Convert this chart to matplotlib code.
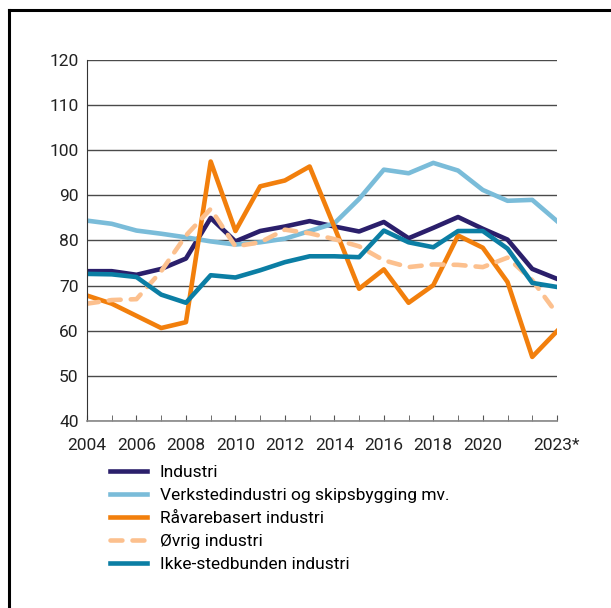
import numpy as np
import matplotlib
matplotlib.use('Agg')
import matplotlib.pyplot as plt
from matplotlib.lines import Line2D

plt.rcParams['font.family'] = ['Roboto', 'DejaVu Sans']

years = np.arange(2004, 2024)
industri = [73.2, 73.2, 72.4, 73.7, 76.0, 85.0, 79.8, 82.1, 83.1, 84.3,
            83.1, 82.0, 84.1, 80.5, 82.8, 85.2, 82.6, 80.2, 73.7, 71.5]
verksted = [84.4, 83.7, 82.2, 81.5, 80.7, 79.8, 79.1, 79.6, 80.4, 82.1,
            83.8, 89.2, 95.7, 94.9, 97.2, 95.5, 91.2, 88.8, 89.0, 84.3]
raavare = [67.8, 66.0, 63.3, 60.6, 61.9, 97.5, 82.1, 92.0, 93.3, 96.4,
           83.0, 69.3, 73.6, 66.2, 70.1, 81.1, 78.4, 70.8, 54.2, 59.9]
ovrig = [66.0, 66.8, 67.0, 73.2, 81.1, 87.0, 78.7, 79.6, 82.4, 81.6,
         80.3, 78.7, 75.6, 74.1, 74.7, 74.6, 74.1, 76.2, 71.2, 63.8]
ikke_sted = [72.6, 72.5, 71.9, 68.0, 66.2, 72.3, 71.8, 73.4, 75.2, 76.5,
             76.5, 76.3, 82.2, 79.6, 78.5, 82.1, 82.1, 78.2, 70.6, 69.7]

label_years = [2004, 2006, 2008, 2010, 2012, 2014, 2016, 2018, 2020, 2023]
label_text = ['2004', '2006', '2008', '2010', '2012', '2014', '2016',
              '2018', '2020', '2023*']

FS = 12.5
fig = plt.figure(figsize=(6.11, 6.08), dpi=100)
ax = fig.add_axes([0.1424, 0.3076, 0.9116 - 0.1424, 0.9013 - 0.3076])

LW = 3.3
ax.plot(years, industri, color='#2b1f6b', lw=LW, label='Industri')
ax.plot(years, verksted, color='#7abcd9', lw=LW,
        label='Verkstedindustri og skipsbygging mv.')
ax.plot(years, raavare, color='#f27f0c', lw=LW, label='Råvarebasert industri')
ax.plot(years, ovrig, color='#fcc08e', lw=LW, dashes=(2.6, 2.2),
        dash_capstyle='round', label='Øvrig industri')
ax.plot(years, ikke_sted, color='#0b7ea4', lw=LW,
        label='Ikke-stedbunden industri')

# axes and grid
ax.set_xlim(2004, 2023)
ax.set_ylim(40, 120)
ax.set_yticks(np.arange(40, 121, 10))
ax.yaxis.grid(True, color='#4a4a4a', lw=1.0)
ax.set_axisbelow(True)
for s in ['top', 'right']:
    ax.spines[s].set_visible(False)
ax.spines['left'].set_color('#333333')
ax.spines['bottom'].set_color('#888888')
ax.spines['bottom'].set_linewidth(1.2)
ax.tick_params(axis='y', length=0, pad=6, labelsize=FS, colors='#222222')
ax.set_xticks(years, minor=True)
ax.set_xticks(label_years)
ax.set_xticklabels(label_text)
ax.tick_params(axis='x', which='both', direction='in', length=4,
               color='#555555', labelsize=FS, pad=12, labelcolor='#222222')

# legend
ax.legend(loc='upper left', bbox_to_anchor=(110 / 611, 1 - 465 / 608),
          bbox_transform=fig.transFigure, frameon=False, fontsize=FS,
          handlelength=2.15, handletextpad=0.72, labelspacing=0.45,
          borderaxespad=0, borderpad=0)

# frame on left and top
fig.add_artist(Line2D([9 / 611, 9 / 611], [0, 1 - 10 / 608], color='black',
                      lw=2.2, transform=fig.transFigure))
fig.add_artist(Line2D([9 / 611, 1], [1 - 10 / 608, 1 - 10 / 608],
                      color='black', lw=2.2, transform=fig.transFigure))

plt.savefig('out.png', dpi=100)
plt.close(fig)
